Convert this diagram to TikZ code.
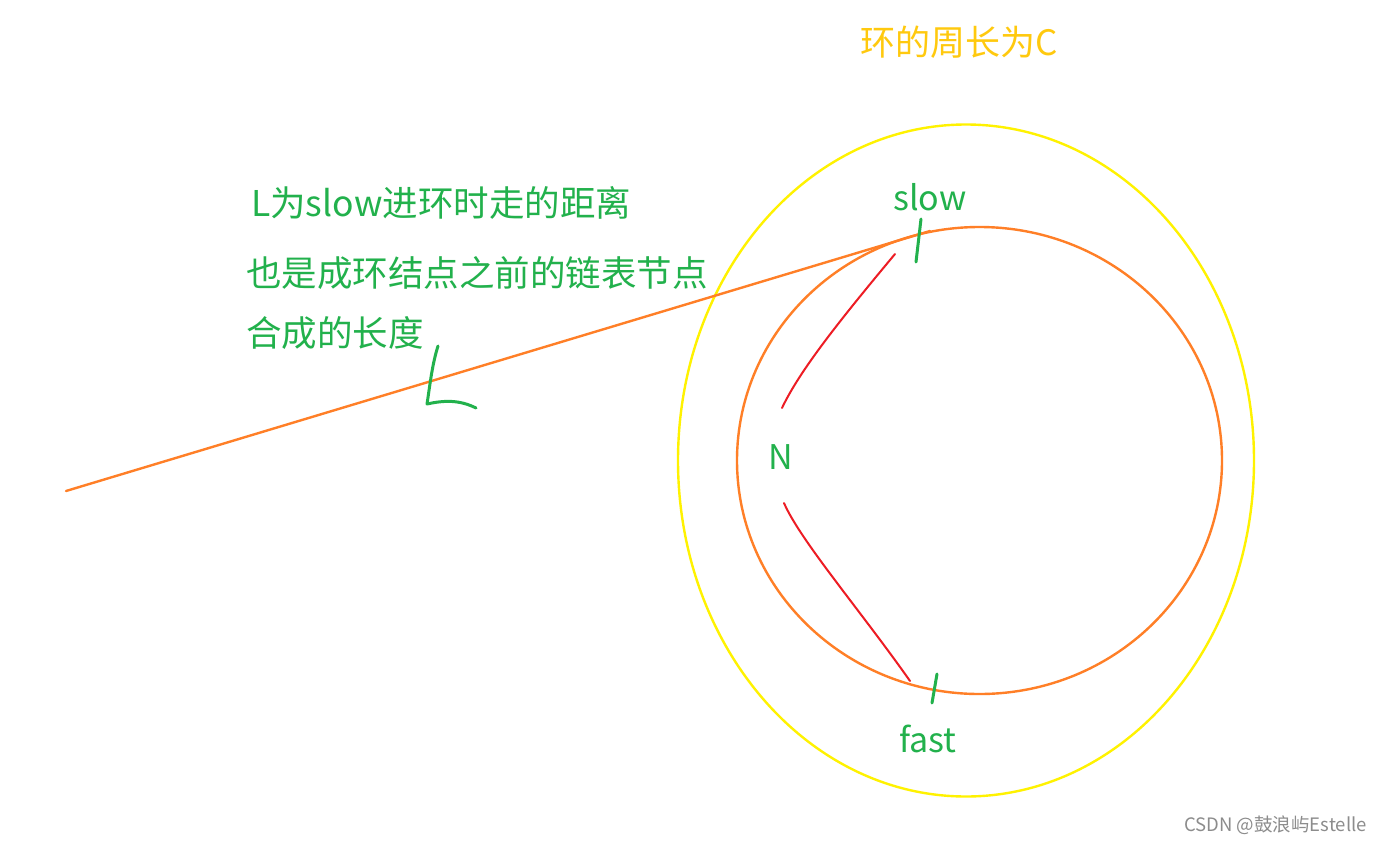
\documentclass[tikz,border=0pt]{standalone}
\usepackage{fontspec}
\setmainfont{Noto Sans CJK SC}
\definecolor{pgreen}{HTML}{22B14C}
\definecolor{porange}{HTML}{FF7F27}
\definecolor{pred}{HTML}{ED1C24}
\definecolor{pyellow}{HTML}{FFF200}
\definecolor{pgold}{HTML}{FFC90E}
\begin{document}
\begin{tikzpicture}[x=1pt,y=-1pt,
  lbl/.style={inner sep=0pt,font=\fontsize{34}{40}\selectfont},
  glbl/.style={inner sep=0pt,text=pgreen,anchor=west,font=\fontsize{35.5}{40}\selectfont},
  ink/.style={line width=#1,line cap=round,line join=round}]
\useasboundingbox[fill=white] (0,0) rectangle (1382,844);
% yellow ellipse and orange circle
\draw[pyellow,ink=2.4pt] (966,460.5) ellipse [x radius=288,y radius=336];
\draw[porange,ink=2.4pt] (979.5,460.5) ellipse [x radius=242.5,y radius=233.5];
% orange tail line
\coordinate (tail) at (66,491);
\coordinate (entry) at (930,231);
\draw[porange,ink=2.4pt] (tail) -- (entry);
% red arcs
\coordinate (r1a) at (782,408);
\coordinate (r1b) at (895,254);
\coordinate (r2a) at (784,503);
\coordinate (r2b) at (910,681);
\draw[pred,ink=2pt] (r1a) .. controls (800,370) and (840,320) .. (r1b);
\draw[pred,ink=2pt] (r2a) .. controls (800,540) and (860,610) .. (r2b);
% green ticks
\draw[pgreen,ink=3pt] (921,219) -- (916,262);
\draw[pgreen,ink=3pt] (937,674) -- (932,703);
% handwritten L
\draw[pgreen,ink=3pt] (438,346) .. controls (432,365) and (430,385) .. (427,404)
  .. controls (445,400) and (460,400) .. (476,408);
% labels
\node[lbl,text=pgold,font=\fontsize{35}{40}\selectfont] (title) at (959,42) {环的周长为C};
\node[lbl,text=pgreen] (slow) at (930,197) {slow};
\node[lbl,text=pgreen] (N) at (781,457) {N};
\node[lbl,text=pgreen] (fast) at (928,739) {fast};
\node[glbl] (t1) at (251,203) {L为slow进环时走的距离};
\node[glbl] (t2) at (246,273) {也是成环结点之前的链表节点};
\node[glbl] (t3) at (246,333) {合成的长度};
\node[inner sep=0pt,anchor=east,text=black!45,font=\fontsize{18.5}{20}\selectfont] (wm) at (1367,825) {CSDN @鼓浪屿Estelle};
\end{tikzpicture}
\end{document}
